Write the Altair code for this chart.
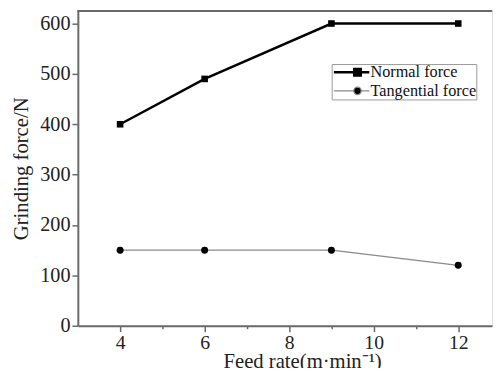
import altair as alt
import pandas as pd

feed_rate = [4, 6, 9, 12]
normal_force = [400, 490, 600, 600]
tangential_force = [150, 150, 150, 120]
series_names = ["Normal force", "Tangential force"]

x_ticks = [4, 5, 6, 7, 8, 9, 10, 11, 12]
y_ticks = [0, 50, 100, 150, 200, 250, 300, 350, 400, 450, 500, 550, 600]

rows = []
for x, n, t in zip(feed_rate, normal_force, tangential_force):
    rows.append({"feed": x, "force": n, "series": series_names[0]})
    rows.append({"feed": x, "force": t, "series": series_names[1]})
df = pd.DataFrame(rows)

FONT = "Liberation Serif"
W, H = 421, 320
AX = "#6a6a6a"

xscale = alt.Scale(domain=[3, 12.8], nice=False, zero=False)
yscale = alt.Scale(domain=[0, 625], nice=False)

xaxis = alt.Axis(
    values=x_ticks,
    labelExpr="datum.value % 2 === 0 ? datum.label : ''",
    tickSize={"condition": {"test": "datum.value % 2 === 0", "value": 6}, "value": 3},
    grid=False, domainColor=AX, domainWidth=2, tickColor=AX, tickWidth=1.5,
    labelFont=FONT, labelFontSize=20, labelColor="#222", labelPadding=1,
    title="Feed rate(m·min⁻¹)", titleFont=FONT, titleFontSize=21,
    titleFontWeight="normal", titleColor="#222",
    titleX=228, titleY=42, titleBaseline="alphabetic",
)
yaxis = alt.Axis(
    values=y_ticks,
    labelExpr="datum.value % 100 === 0 ? datum.label : ''",
    tickSize={"condition": {"test": "datum.value % 100 === 0", "value": 6}, "value": 3},
    grid=False, domainColor=AX, domainWidth=2, tickColor=AX, tickWidth=1.5,
    labelFont=FONT, labelFontSize=20.5, labelColor="#222", labelPadding=2,
    title="Grinding force/N", titleFont=FONT, titleFontSize=21,
    titleFontWeight="normal", titleColor="#222", titlePadding=8,
)

base = alt.Chart(df)

line_n = base.transform_filter(alt.datum.series == series_names[0]).mark_line(
    color="black", strokeWidth=2.5
).encode(x=alt.X("feed:Q", scale=xscale, axis=xaxis), y=alt.Y("force:Q", scale=yscale, axis=yaxis))

line_t = base.transform_filter(alt.datum.series == series_names[1]).mark_line(
    color="#8a8a8a", strokeWidth=1.3
).encode(x="feed:Q", y="force:Q")

pts_n = base.transform_filter(alt.datum.series == series_names[0]).mark_point(
    shape="square", filled=True, color="black", size=45, opacity=1
).encode(x="feed:Q", y="force:Q")

pts_t = base.transform_filter(alt.datum.series == series_names[1]).mark_point(
    shape="circle", filled=True, color="black", size=50, opacity=1
).encode(x="feed:Q", y="force:Q")

# legend symbols: a line with a marker on it (unit = 6 px)
sq_path = "M-1,0H5M2.45,-0.55H3.55V0.55H2.45Z"
ci_path = "M-1,0H2.37A0.63,0.63 0 1,1 3.63,0A0.63,0.63 0 1,1 2.37,0M3.63,0H5"

legend_layer = base.mark_point(opacity=0, filled=True, fill="black", color="black").encode(
    x="feed:Q", y="force:Q",
    shape=alt.Shape("series:N", scale=alt.Scale(domain=series_names, range=[sq_path, ci_path]),
                    legend=alt.Legend(
                        title=None, orient="none", legendX=258, legendY=54,
                        padding=0, strokeColor="#999", fillColor="white",
                        labelFont=FONT, labelFontSize=16.5, labelColor="#111",
                        symbolSize=144, labelOffset=23, rowPadding=2,
                        symbolFillColor="black", symbolOpacity=1,
                    )),
    stroke=alt.Stroke("series:N", scale=alt.Scale(domain=series_names, range=["black", "#8a8a8a"])),
    strokeWidth=alt.StrokeWidth("series:N", scale=alt.Scale(domain=series_names, range=[2.5, 1.3])),
)

top_rule = alt.Chart(df).mark_rule(color=AX, strokeWidth=2).encode(
    x=alt.value(0), x2=alt.value(W), y=alt.value(0)
)

chart = alt.layer(top_rule, line_n, line_t, pts_n, pts_t, legend_layer).properties(
    width=W, height=H,
    autosize=alt.AutoSizeParams(type="none"),
    padding={"left": 71, "top": 0, "right": 2, "bottom": 40},
).configure_view(stroke=None).configure(background="white")

chart.save("out.html", embed_options={"renderer": "svg", "actions": False})
